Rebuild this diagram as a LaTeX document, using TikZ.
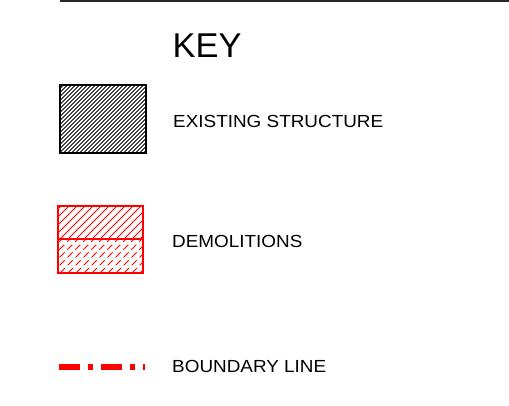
\documentclass[tikz,border=0pt]{standalone}
\usepackage{fontspec}
\setmainfont{Liberation Sans}
\newfontfamily\widesans[FakeStretch=1.08]{Liberation Sans}
\begin{document}
\begin{tikzpicture}[x=1pt,y=-1pt,
  lbl/.style={anchor=base west,inner sep=0pt,font=\widesans\fontsize{17.5}{20}\selectfont},
  hatchblk/.style={black,line width=0.9pt},
  hatchred/.style={red,line width=0.8pt}]
\useasboundingbox[fill=white] (0,0) rectangle (509,405);
% top rule
\coordinate (tl) at (60,0.8);
\coordinate (tr) at (509,0.8);
\draw[line width=1.6pt,black!85] (tl) -- (tr);
% title
\node[anchor=base west,inner sep=0pt,font=\fontsize{34.4}{38}\selectfont] (key) at (172.5,57.3) {KEY};
% existing structure box
\coordinate (ea) at (59.5,84.5);
\coordinate (eb) at (145.5,152.5);
\begin{scope}
\clip (ea) rectangle (eb);
\foreach \x in {-12,-8,...,146}{
  \draw[hatchblk] (\x,152.5) -- (\x+68,84.5);
}
\end{scope}
\draw[line width=2pt] (ea) rectangle (eb);
\node[lbl] (exist) at (173,127.3) {EXISTING STRUCTURE};
% demolitions box
\coordinate (da) at (57.5,205.5);
\coordinate (db) at (142.5,272.5);
\coordinate (dm1) at (57.5,239);
\coordinate (dm2) at (142.5,239);
\begin{scope}
\clip (da) rectangle (dm2);
\foreach \x in {20,28,...,150}{
  \draw[hatchred] (\x,239) -- (\x+34,205);
}
\end{scope}
\begin{scope}
\clip (dm1) rectangle (db);
\foreach \x in {20,28,...,150}{
  \draw[hatchred,dash pattern=on 7pt off 4pt] (\x,273) -- (\x+34,239);
}
\end{scope}
\draw[red,line width=2pt] (da) rectangle (db);
\draw[red,line width=2pt] (dm1) -- (dm2);
\node[lbl] (demo) at (172,247.3) {DEMOLITIONS};
% boundary line
\coordinate (ba) at (59,367);
\coordinate (bb) at (145,367);
\draw[red,line width=6pt,dash pattern=on 21pt off 8pt on 5pt off 8pt] (ba) -- (bb);
\node[lbl] (bound) at (172,372.7) {BOUNDARY LINE};
\end{tikzpicture}
\end{document}
